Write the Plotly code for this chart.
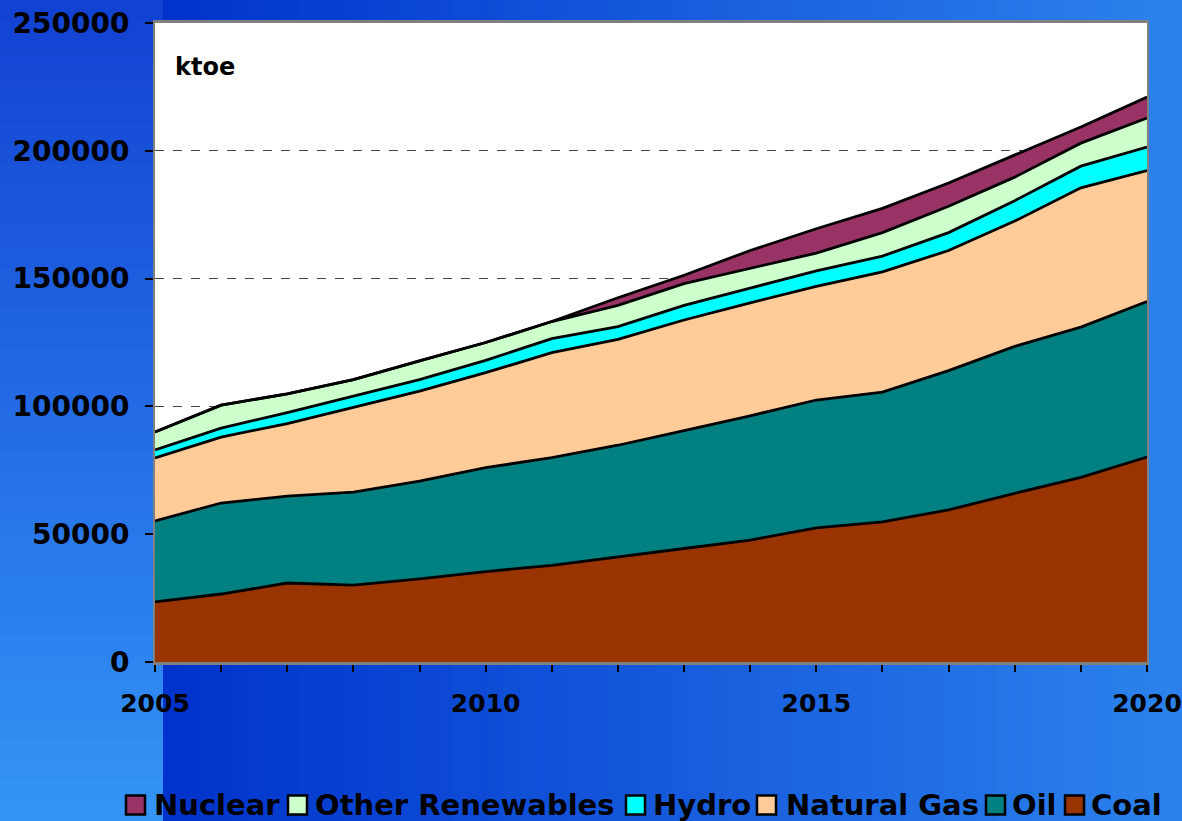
import plotly.graph_objects as go

years = list(range(2005, 2021))
coal = [23500, 26600, 30900, 30100, 32500, 35400, 37800, 41000, 44400, 47700, 52500, 54800, 59500, 66000, 72200, 80200]
oil = [31700, 35600, 34000, 36400, 38300, 40600, 42200, 43800, 46100, 48600, 50000, 50800, 54500, 57500, 58800, 60800]
natural_gas = [24600, 25800, 28400, 33300, 35200, 37200, 41000, 41400, 43300, 44200, 44500, 47000, 47000, 49000, 54500, 51300]
hydro = [3200, 3500, 4300, 4400, 4500, 4800, 5500, 5000, 5700, 5800, 6000, 6200, 7000, 8000, 8500, 9200]
other_renewables = [7000, 9000, 7300, 6300, 7300, 7000, 6700, 8300, 8500, 7700, 7000, 9200, 10300, 9200, 9000, 11300]
nuclear = [0, 0, 0, 0, 0, 0, 0, 3000, 3300, 7000, 9500, 9500, 9100, 8700, 6300, 8200]

series_names = ["Coal", "Oil", "Natural Gas", "Hydro", "Other Renewables", "Nuclear"]
series_values = [coal, oil, natural_gas, hydro, other_renewables, nuclear]
series_colors = ["#993300", "#008080", "#FFCC99", "#00FFFF", "#CCFFCC", "#993366"]

y_ticks = [0, 50000, 100000, 150000, 200000, 250000]
x_ticks = [2005, 2010, 2015, 2020]

fig = go.Figure()
for name, vals, col in zip(series_names, series_values, series_colors):
    fig.add_trace(go.Scatter(
        x=years, y=vals, name=name, stackgroup="one", mode="lines",
        line=dict(color="black", width=2.8), fillcolor=col, showlegend=False,
        hoverinfo="skip"))

W, H = 1182, 821
L, R, T, B = 155, 1147, 23, 662
def px2x(px):
    return (px - L) / (R - L)
def py2y(py):
    return (B - py) / (B - T)

shapes = []
annotations = []

# background gradient (slide)
split = 163
n = 60
c0 = (0, 51, 204)
c1 = (44, 130, 236)
for i in range(n):
    xa = split + (W - split) * i / n
    xb = split + (W - split) * (i + 1) / n + 1
    t = i / (n - 1)
    c = tuple(int(round(c0[k] + (c1[k] - c0[k]) * t)) for k in range(3))
    shapes.append(dict(type="rect", xref="paper", yref="paper", layer="below",
                       x0=px2x(xa), x1=px2x(xb), y0=py2y(-2), y1=py2y(H + 2),
                       fillcolor="rgb(%d,%d,%d)" % c, line=dict(width=0)))
m = 40
v0 = (18, 66, 210)
v1 = (52, 148, 246)
for i in range(m):
    ya = H * i / m
    yb = H * (i + 1) / m + 1
    t = i / (m - 1)
    c = tuple(int(round(v0[k] + (v1[k] - v0[k]) * t)) for k in range(3))
    shapes.append(dict(type="rect", xref="paper", yref="paper", layer="below",
                       x0=px2x(-2), x1=px2x(split), y0=py2y(ya), y1=py2y(yb),
                       fillcolor="rgb(%d,%d,%d)" % c, line=dict(width=0)))
# white plot area
shapes.append(dict(type="rect", xref="paper", yref="paper", layer="below",
                   x0=0, x1=1, y0=0, y1=1, fillcolor="white", line=dict(width=0)))

# manual legend (order as in reference: Nuclear ... Coal)
legend_sq_x = [126, 288, 626, 757, 986, 1065]
legend_txt_x = [152, 313, 651, 784, 1010, 1089]
legend_y = 805
for (name, col), sx, tx in zip(reversed(list(zip(series_names, series_colors))), legend_sq_x, legend_txt_x):
    shapes.append(dict(type="rect", xref="paper", yref="paper",
                       x0=px2x(sx), x1=px2x(sx + 19), y0=py2y(legend_y - 9.5), y1=py2y(legend_y + 9.5),
                       fillcolor=col, line=dict(color="black", width=2.5)))
    annotations.append(dict(text=name, xref="paper", yref="paper", x=px2x(tx), y=py2y(legend_y),
                            xanchor="left", yanchor="middle", showarrow=False,
                            font=dict(family="DejaVu Sans", size=29, color="black", weight="bold")))

annotations.append(dict(text="ktoe", xref="paper", yref="paper", x=px2x(173), y=py2y(67),
                        xanchor="left", yanchor="middle", showarrow=False,
                        font=dict(family="DejaVu Sans", size=24, color="black", weight="bold")))

fig.update_layout(
    width=W, height=H,
    margin=dict(l=L, r=W - R, t=T, b=H - B, pad=0, autoexpand=False),
    paper_bgcolor="#1a55d8",
    plot_bgcolor="rgba(0,0,0,0)",
    shapes=shapes,
    annotations=annotations,
    showlegend=False,
)
fig.update_xaxes(
    range=[2005, 2020], tickvals=x_ticks, ticktext=[str(v) for v in x_ticks],
    ticks="outside", ticklen=7, tickwidth=2, tickcolor="black",
    minor=dict(dtick=1, ticks="outside", ticklen=7, tickwidth=2, tickcolor="black"),
    showgrid=False, zeroline=False, automargin=False,
    showline=True, linecolor="#808080", linewidth=3, mirror=True,
    tickfont=dict(family="DejaVu Sans", size=25, color="black", weight="bold"),
    ticklabelstandoff=10, layer="above traces")
fig.update_yaxes(
    range=[0, 250000], tickvals=y_ticks, ticktext=[str(v) for v in y_ticks],
    ticks="outside", ticklen=8, tickwidth=2, tickcolor="black",
    showgrid=True, gridcolor="#444444", griddash="dash", gridwidth=1,
    zeroline=False, automargin=False,
    showline=True, linecolor="#808080", linewidth=2, mirror=True,
    tickfont=dict(family="DejaVu Sans", size=28, color="black", weight="bold"),
    ticklabelstandoff=10)

fig.write_html("out.html", config={"displayModeBar": False},
               post_script="document.body.style.margin='0';document.body.style.overflow='hidden';")
